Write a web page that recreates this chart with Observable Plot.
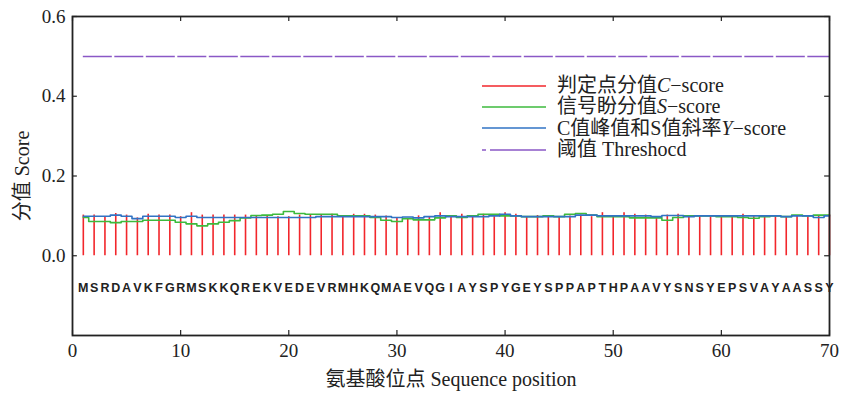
<!DOCTYPE html>
<html><head><meta charset="utf-8">
<script src="https://cdn.jsdelivr.net/npm/d3@7"></script>
<script src="https://cdn.jsdelivr.net/npm/@observablehq/plot@0.6"></script>
<style>
body{margin:0;background:#fff;}
#wrap{position:relative;width:842px;height:396px;}
.legend{position:absolute;left:482px;top:75px;font-family:"Liberation Serif","Noto Sans CJK SC",serif;font-size:20px;color:#222;line-height:21px;}
.row{display:flex;align-items:center;height:21.3px;white-space:nowrap;}
.row svg{margin-right:11px;}
</style></head><body><div id="wrap"></div>
<script>
const sequence = "MSRDAVKFGRMSKKQREKVEDEVRMHKQMAEVQGIAYSPYGEYSPPAPTHPAAVYSNSYEPSVAYAASSY".split("");
const cScore = [0.102,0.102,0.098,0.106,0.102,0.095,0.104,0.102,0.102,0.098,
  0.108,0.102,0.102,0.102,0.102,0.102,0.100,0.100,0.098,0.098,
  0.102,0.102,0.102,0.104,0.098,0.104,0.104,0.102,0.100,0.096,
  0.092,0.100,0.098,0.108,0.098,0.104,0.096,0.104,0.098,0.108,
  0.104,0.098,0.101,0.098,0.098,0.100,0.102,0.098,0.108,0.098,
  0.108,0.104,0.102,0.096,0.102,0.104,0.098,0.100,0.098,0.100,
  0.098,0.104,0.098,0.100,0.098,0.098,0.100,0.100,0.100,0.102];
const sScore = [0.096,0.086,0.086,0.083,0.086,0.086,0.089,0.089,0.089,0.084,
  0.080,0.075,0.080,0.084,0.088,0.095,0.101,0.102,0.104,0.111,
  0.106,0.104,0.104,0.104,0.100,0.100,0.100,0.096,0.089,0.086,
  0.093,0.090,0.090,0.095,0.100,0.096,0.100,0.104,0.104,0.100,
  0.100,0.098,0.098,0.100,0.098,0.104,0.106,0.102,0.098,0.098,
  0.098,0.095,0.095,0.095,0.089,0.096,0.100,0.100,0.100,0.098,
  0.098,0.096,0.094,0.098,0.100,0.098,0.102,0.100,0.102,0.102];
const yScore = [0.099,0.099,0.099,0.102,0.099,0.093,0.099,0.099,0.099,0.096,
  0.099,0.096,0.096,0.096,0.096,0.096,0.096,0.096,0.096,0.096,
  0.096,0.096,0.098,0.098,0.098,0.098,0.098,0.098,0.098,0.096,
  0.097,0.095,0.098,0.100,0.098,0.098,0.098,0.098,0.100,0.104,
  0.100,0.098,0.098,0.098,0.098,0.098,0.102,0.102,0.100,0.100,
  0.100,0.100,0.100,0.098,0.101,0.101,0.098,0.100,0.100,0.100,
  0.100,0.100,0.100,0.100,0.100,0.098,0.100,0.100,0.096,0.100];
const threshold = 0.5;
const xTicks = [0,10,20,30,40,50,60,70];
const yTicks = [0,0.2,0.4,0.6];

const colors = {c:"#f2262b", s:"#3dba3d", y:"#3173c4", t:"#8a58c6"};
const xDomain = [0,70], yDomain = [-0.2,0.6];
const tx = 0.45, ty = 0.0125; // inward tick lengths in data units
const pos = sequence.map((d,i)=>i+1);
const font = '"Liberation Serif","Noto Sans CJK SC",serif';

const chart = Plot.plot({
  width: 842, height: 396,
  marginLeft: 72, marginRight: 13, marginTop: 16, marginBottom: 61,
  style: {fontFamily: font, fontSize: "19px", color: "#222", background: "#fff"},
  x: {domain: xDomain, ticks: xTicks, tickSize: 0, tickPadding: 8, label: "氨基酸位点 Sequence position", labelAnchor: "center", labelOffset: 50, labelArrow: "none"},
  y: {domain: yDomain, ticks: yTicks, tickSize: 0, tickPadding: 7, tickFormat: d3.format(".1f"), label: "分值 Score", labelAnchor: "center", labelOffset: 58, labelArrow: "none"},
  marks: [
    Plot.ruleY([threshold], {x1: 1, x2: sequence.length, stroke: colors.t, strokeWidth: 1.5, strokeDasharray: "29,2.5"}),
    Plot.ruleX(pos, {x: d=>d, y1: 0, y2: (d,i)=>cScore[i], stroke: colors.c, strokeWidth: 1.6}),
    Plot.line(pos, {x: d=>d, y: (d,i)=>sScore[i], curve: "step", stroke: colors.s, strokeWidth: 1.6}),
    Plot.line(pos, {x: d=>d, y: (d,i)=>yScore[i], curve: "step", stroke: colors.y, strokeWidth: 1.6}),
    Plot.text(sequence, {x: (d,i)=>i+1, y: -0.08, text: d=>d, fontFamily: '"Liberation Sans",Arial,sans-serif', fontSize: 12.5, fontWeight: "bold", fill: "#222"}),
    Plot.ruleX(xTicks, {x: d=>d, y1: yDomain[0], y2: yDomain[0]+ty, stroke: "#222", strokeWidth: 1.2}),
    Plot.ruleX(xTicks, {x: d=>d, y1: yDomain[1], y2: yDomain[1]-ty, stroke: "#222", strokeWidth: 1.2}),
    Plot.ruleY(yTicks, {y: d=>d, x1: xDomain[0], x2: xDomain[0]+tx, stroke: "#222", strokeWidth: 1.2}),
    Plot.ruleY(yTicks, {y: d=>d, x1: xDomain[1], x2: xDomain[1]-tx, stroke: "#222", strokeWidth: 1.2}),
    Plot.frame({stroke: "#222", strokeWidth: 1.8})
  ]
});
// slightly larger axis titles, as in the reference
chart.querySelectorAll('[aria-label="x-axis label"] text, [aria-label="y-axis label"] text').forEach(t=>t.setAttribute("font-size","20"));
const wrap = document.getElementById("wrap");
wrap.appendChild(chart);

const legendItems = [
  {html: '判定点分值<i>C</i>−score', color: colors.c, dash: null},
  {html: '信号盼分值<i>S</i>−score', color: colors.s, dash: null},
  {html: 'C值峰值和S值斜率<i>Y</i>−score', color: colors.y, dash: null},
  {html: '阈值 Threshocd', color: colors.t, dash: "4,4,56,4"}
];
const lg = document.createElement("div");
lg.className = "legend";
legendItems.forEach(it=>{
  const r = document.createElement("div"); r.className = "row";
  r.innerHTML = `<svg width="64" height="6"><line x1="0" x2="64" y1="3" y2="3" stroke="${it.color}" stroke-width="1.6" ${it.dash?`stroke-dasharray="${it.dash}"`:""}/></svg><span>${it.html}</span>`;
  lg.appendChild(r);
});
wrap.appendChild(lg);
</script></body></html>
